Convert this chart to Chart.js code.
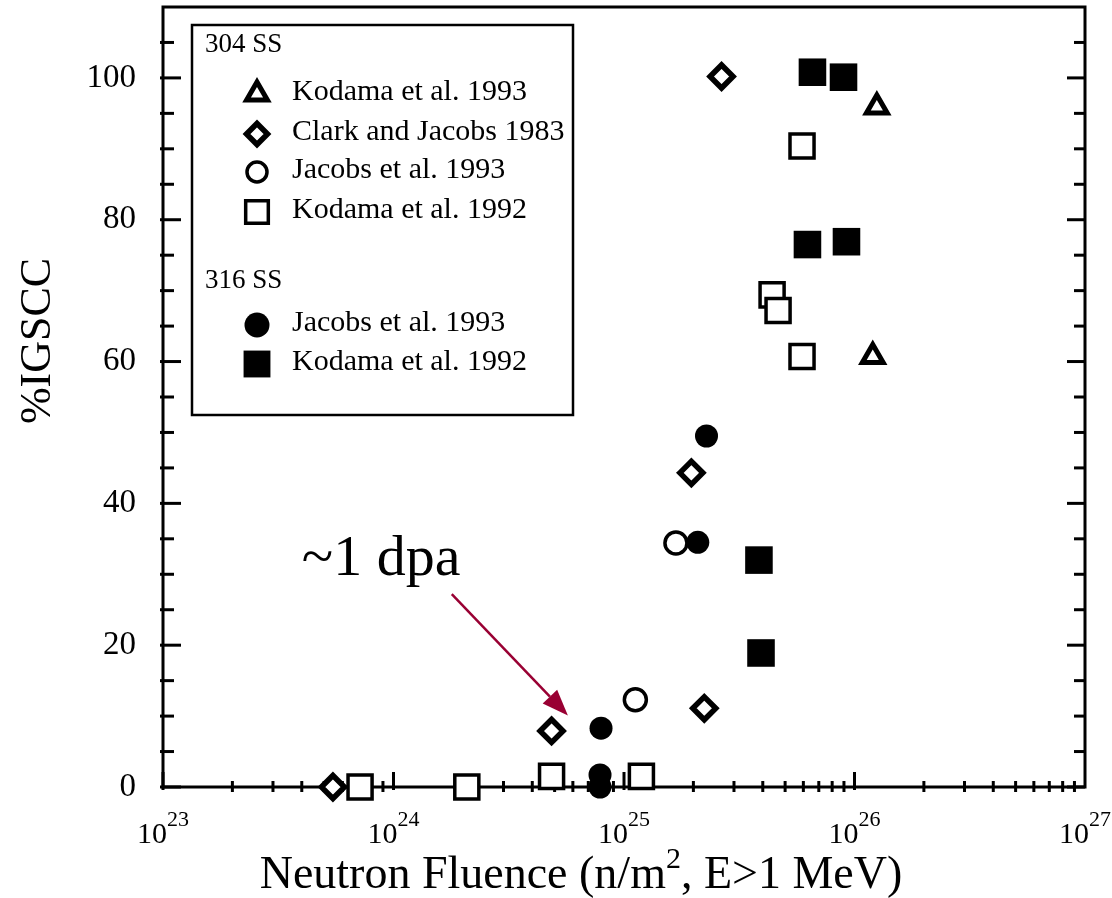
<!DOCTYPE html>
<html>
<head>
<meta charset="utf-8">
<script src="https://cdn.jsdelivr.net/npm/chart.js@4.4.1/dist/chart.umd.min.js"></script>
<style>
    html, body { margin: 0; padding: 0; background: #fff; }
    #wrap { width: 1112px; height: 898px; }
</style>
</head>
<body>
<div id="wrap"><canvas id="igscc-chart"></canvas></div>
<script>

// Axis ticks
const xTickValues = [1e23, 1e24, 1e25, 1e26, 1e27];
const xTickExponents = ['23', '24', '25', '26', '27'];
const yTickValues = [0, 20, 40, 60, 80, 100];

// Legend text
const groupLabels = ['304 SS', '316 SS'];
const seriesLabels = [
    'Kodama et al. 1993',
    'Clark and Jacobs 1983',
    'Jacobs et al. 1993',
    'Kodama et al. 1992',
    'Jacobs et al. 1993',
    'Kodama et al. 1992'
];

// 304 SS
const kodama93X = [1.25e26, 1.20e26];
const kodama93Y = [95.9, 60.7];

const clark83X = [2.65e25, 1.96e25, 2.23e25, 4.85e24, 5.46e23];
const clark83Y = [100.2, 44.3, 11.1, 7.9, 0];

const jacobs93X = [1.68e25, 1.12e25];
const jacobs93Y = [34.4, 12.3];

const kodama92X = [5.92e25, 4.39e25, 4.66e25, 5.92e25, 7.16e23, 2.08e24, 4.85e24, 1.19e25];
const kodama92Y = [90.4, 69.4, 67.2, 60.7, 0, 0, 1.5, 1.5];

// 316 SS
const jacobs93sX = [2.28e25, 2.09e25, 7.95e24, 7.87e24, 7.87e24];
const jacobs93sY = [49.5, 34.5, 8.3, 1.7, 0];

const kodama92sX = [6.57e25, 8.96e25, 6.25e25, 9.23e25, 3.85e25, 3.93e25];
const kodama92sY = [100.8, 100.1, 76.5, 76.9, 32.0, 18.9];

// annotation (data coordinates)
const noteText = '~1 dpa';
const notePos = { x: 4.0e23, y: 29.9 };
const arrowFrom = { x: 1.79e24, y: 27.2 };
const arrowTo = { x: 5.71e24, y: 10.1 };

const serif = "'Liberation Serif', 'Times New Roman', serif";

function zip(xs, ys) {
    return xs.map((x, i) => ({ x: x, y: ys[i] }));
}

// marker styles, same order as seriesLabels
const markers = [
    { pointStyle: 'triangle', radius: 12, borderWidth: 5, fill: '#fff' },
    { pointStyle: 'rectRot', radius: 11.5, borderWidth: 5.5, fill: '#fff' },
    { pointStyle: 'circle', radius: 11, borderWidth: 3.5, fill: '#fff' },
    { pointStyle: 'rect', radius: 17, borderWidth: 3.5, fill: '#fff' },
    { pointStyle: 'circle', radius: 11.5, borderWidth: 0, fill: '#000' },
    { pointStyle: 'rect', radius: 19.5, borderWidth: 0, fill: '#000' }
];

const seriesData = [
    zip(kodama93X, kodama93Y),
    zip(clark83X, clark83Y),
    zip(jacobs93X, jacobs93Y),
    zip(kodama92X, kodama92Y),
    zip(jacobs93sX, jacobs93sY),
    zip(kodama92sX, kodama92sY)
];

const datasets = seriesData.map((pts, i) => ({
    label: seriesLabels[i],
    data: pts,
    pointStyle: markers[i].pointStyle,
    pointRadius: markers[i].radius,
    pointHoverRadius: markers[i].radius,
    pointBorderWidth: markers[i].borderWidth,
    pointBackgroundColor: markers[i].fill,
    pointBorderColor: '#000',
    showLine: false,
    clip: false
}));

function line(ctx, x1, y1, x2, y2) {
    ctx.beginPath();
    ctx.moveTo(x1, y1);
    ctx.lineTo(x2, y2);
    ctx.stroke();
}

// text with a raised exponent, centred on cx
function powerText(ctx, base, sup, cx, baseline, size, supSize, rise) {
    ctx.font = size + 'px ' + serif;
    const wb = ctx.measureText(base).width;
    ctx.font = supSize + 'px ' + serif;
    const ws = ctx.measureText(sup).width;
    const x0 = cx - (wb + ws) / 2;
    ctx.textAlign = 'left';
    ctx.font = size + 'px ' + serif;
    ctx.fillText(base, x0, baseline);
    ctx.font = supSize + 'px ' + serif;
    ctx.fillText(sup, x0 + wb, baseline - rise);
}

// frame + inward ticks + x tick labels
const framePlugin = {
    id: 'frame',
    beforeDatasetsDraw(chart) {
        const ctx = chart.ctx;
        const { left, right, top, bottom } = chart.chartArea;
        const xs = chart.scales.x;
        const ys = chart.scales.y;
        ctx.save();
        ctx.strokeStyle = '#000';
        ctx.lineWidth = 3;
        ctx.strokeRect(left, top, right - left, bottom - top);

        for (let v = 0; v <= 105; v += 5) {
            const py = ys.getPixelForValue(v);
            const len = v % 20 === 0 ? 18 : 11;
            line(ctx, left - 3, py, left + len, py);
            line(ctx, right - len, py, right, py);
        }
        for (let e = 23; e <= 26; e++) {
            for (let m = 1; m < 10; m++) {
                const px = xs.getPixelForValue(m * Math.pow(10, e));
                if (m === 1) line(ctx, px, bottom - 15, px, bottom + 3);
                else line(ctx, px, bottom - 6, px, bottom + 5);
            }
        }

        ctx.fillStyle = '#000';
        ctx.textBaseline = 'alphabetic';
        xTickValues.forEach((v, i) => {
            powerText(ctx, '10', xTickExponents[i], xs.getPixelForValue(v), 843, 30, 22, 17);
        });
        ctx.restore();
    }
};

// legend box, axis titles and the dpa arrow
const notesPlugin = {
    id: 'notes',
    afterDraw(chart) {
        const ctx = chart.ctx;
        const xs = chart.scales.x;
        const ys = chart.scales.y;
        const drawPoint = Chart.helpers && Chart.helpers.drawPoint;
        ctx.save();

        // legend
        ctx.strokeStyle = '#000';
        ctx.lineWidth = 2.5;
        ctx.strokeRect(192, 25, 381, 390);
        ctx.fillStyle = '#000';
        ctx.textAlign = 'left';
        ctx.textBaseline = 'alphabetic';
        ctx.font = '27px ' + serif;
        ctx.fillText(groupLabels[0], 205, 52);
        ctx.fillText(groupLabels[1], 205, 288);

        const rows = [100, 140, 178, 218, 331, 370];
        const legendRadius = [12, 10.5, 10, 16, 12.5, 19];
        ctx.font = '30px ' + serif;
        rows.forEach((b, i) => {
            ctx.fillStyle = '#000';
            ctx.fillText(seriesLabels[i], 292, b);
            if (drawPoint) {
                ctx.fillStyle = markers[i].fill;
                ctx.strokeStyle = '#000';
                ctx.lineWidth = markers[i].borderWidth;
                drawPoint(ctx, {
                    pointStyle: markers[i].pointStyle,
                    radius: legendRadius[i],
                    borderWidth: markers[i].borderWidth,
                    rotation: 0
                }, 257, b - 6);
            }
        });

        // axis titles
        ctx.fillStyle = '#000';
        ctx.font = '46px ' + serif;
        const t1 = 'Neutron Fluence (n/m', t2 = ', E>1 MeV)';
        const w1 = ctx.measureText(t1).width, w2 = ctx.measureText(t2).width;
        ctx.font = '30px ' + serif;
        const wsup = ctx.measureText('2').width;
        const tx = 581 - (w1 + wsup + w2) / 2;
        ctx.textAlign = 'left';
        ctx.font = '46px ' + serif;
        ctx.fillText(t1, tx, 888);
        ctx.font = '30px ' + serif;
        ctx.fillText('2', tx + w1, 868);
        ctx.font = '46px ' + serif;
        ctx.fillText(t2, tx + w1 + wsup, 888);

        ctx.save();
        ctx.translate(50, 341);
        ctx.rotate(-Math.PI / 2);
        ctx.textAlign = 'center';
        ctx.font = '44px ' + serif;
        ctx.fillText('%IGSCC', 0, 0);
        ctx.restore();

        // annotation
        ctx.font = '58px ' + serif;
        ctx.textAlign = 'left';
        ctx.fillText(noteText, xs.getPixelForValue(notePos.x), ys.getPixelForValue(notePos.y));

        const x1 = xs.getPixelForValue(arrowFrom.x), y1 = ys.getPixelForValue(arrowFrom.y);
        const x2 = xs.getPixelForValue(arrowTo.x), y2 = ys.getPixelForValue(arrowTo.y);
        const ang = Math.atan2(y2 - y1, x2 - x1);
        const headLen = 26, headW = 10;
        const bx = x2 - headLen * Math.cos(ang), by = y2 - headLen * Math.sin(ang);
        ctx.strokeStyle = '#990033';
        ctx.fillStyle = '#990033';
        ctx.lineWidth = 2.5;
        line(ctx, x1, y1, bx, by);
        ctx.beginPath();
        ctx.moveTo(x2, y2);
        ctx.lineTo(bx + headW * Math.sin(ang), by - headW * Math.cos(ang));
        ctx.lineTo(bx - headW * Math.sin(ang), by + headW * Math.cos(ang));
        ctx.closePath();
        ctx.fill();

        ctx.restore();
    }
};

const chart = new Chart(document.getElementById('igscc-chart'), {
    type: 'scatter',
    data: { datasets: datasets },
    options: {
        responsive: true,
        maintainAspectRatio: false,
        animation: false,
        layout: {
            autoPadding: false,   // big markers would otherwise push the plot down
            padding: { top: 7, right: 27, left: 0, bottom: 0 }
        },
        plugins: {
            legend: { display: false },
            tooltip: { enabled: false }
        },
        scales: {
            x: {
                type: 'logarithmic',
                min: 1e23,
                max: 1e27,
                grid: { display: false, drawTicks: false },
                border: { display: false },
                ticks: {
                    display: false,
                    autoSkip: false
                },
                afterBuildTicks: scale => {
                    scale.ticks = xTickValues.map(v => ({ value: v }));
                },
                afterFit: scale => {
                    scale.height = 111;
                    scale.paddingLeft = 0;
                    scale.paddingRight = 0;
                }
            },
            y: {
                min: 0,
                max: 110,
                grid: { display: false, drawTicks: false },
                border: { display: false },
                ticks: {
                    color: '#000',
                    padding: 27,
                    font: { family: serif, size: 33 }
                },
                afterBuildTicks: scale => {
                    scale.ticks = yTickValues.map(v => ({ value: v }));
                },
                afterFit: scale => {
                    scale.width = 163;
                    scale.paddingTop = 0;
                    scale.paddingBottom = 0;
                }
            }
        }
    },
    plugins: [framePlugin, notesPlugin]
});

</script>
</body>
</html>
